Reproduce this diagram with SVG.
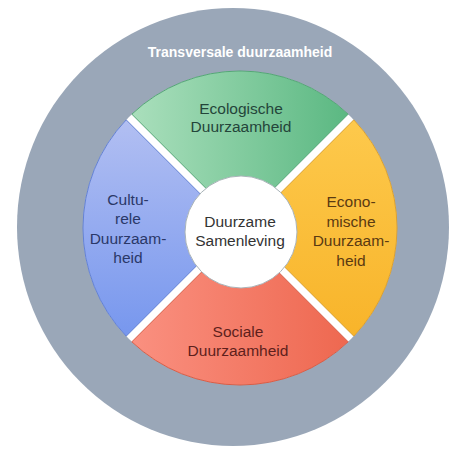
<svg xmlns="http://www.w3.org/2000/svg" width="449" height="450" viewBox="0 0 449 450">
<defs>
<linearGradient id="gGreen" x1="0" y1="0" x2="1" y2="0"><stop offset="0" stop-color="#aadfbc"/><stop offset="1" stop-color="#5bb882"/></linearGradient>
<linearGradient id="gBlue" x1="0" y1="0" x2="0" y2="1"><stop offset="0" stop-color="#b2bff2"/><stop offset="1" stop-color="#7797ee"/></linearGradient>
<linearGradient id="gOrange" x1="0" y1="0" x2="0" y2="1"><stop offset="0" stop-color="#fdc94c"/><stop offset="1" stop-color="#f8b42a"/></linearGradient>
<linearGradient id="gRed" x1="0" y1="0" x2="1" y2="0"><stop offset="0" stop-color="#fa9080"/><stop offset="1" stop-color="#ee6850"/></linearGradient>
</defs>
<style>
.lbl{font-family:"Liberation Sans",Arial,sans-serif;font-size:15.5px;text-anchor:middle}
.title{font-family:"Liberation Sans",Arial,sans-serif;font-size:14px;font-weight:bold;fill:#ffffff;text-anchor:middle}
.seg{stroke-width:1}
</style>
<rect x="0" y="0" width="449" height="450" fill="#ffffff"/>
<g id="outer">
<ellipse cx="233" cy="227" rx="216" ry="219" fill="#9aa7b8"/>
<text class="title" x="240" y="57">Transversale duurzaamheid</text>
</g>
<circle cx="240" cy="228" r="157" fill="#ffffff"/>
<g id="ecologisch">
<path class="seg" d="M240,222.34 L131.85,114.19 A157,157 0 0 1 348.15,114.19 Z" fill="url(#gGreen)" stroke="#55a677"/>
<text class="lbl" fill="#24453a" x="241" y="114">Ecologische</text>
<text class="lbl" fill="#24453a" x="241" y="132">Duurzaamheid</text>
</g>
<g id="economisch">
<path class="seg" d="M245.66,228 L353.81,119.85 A157,157 0 0 1 353.81,336.15 Z" fill="url(#gOrange)" stroke="#d9a034"/>
<text class="lbl" fill="#5a3a12" x="351" y="207">Econo-</text>
<text class="lbl" fill="#5a3a12" x="351" y="226.5">mische</text>
<text class="lbl" fill="#5a3a12" x="351" y="246">Duurzaam-</text>
<text class="lbl" fill="#5a3a12" x="351" y="265.5">heid</text>
</g>
<g id="sociaal">
<path class="seg" d="M240,233.66 L348.15,341.81 A157,157 0 0 1 131.85,341.81 Z" fill="url(#gRed)" stroke="#d65e48"/>
<text class="lbl" fill="#5e1f1c" x="238" y="337">Sociale</text>
<text class="lbl" fill="#5e1f1c" x="238" y="356">Duurzaamheid</text>
</g>
<g id="cultureel">
<path class="seg" d="M234.34,228 L126.19,336.15 A157,157 0 0 1 126.19,119.85 Z" fill="url(#gBlue)" stroke="#6482d4"/>
<text class="lbl" fill="#2a3868" x="128" y="205">Cultu-</text>
<text class="lbl" fill="#2a3868" x="128" y="224">rele</text>
<text class="lbl" fill="#2a3868" x="128" y="243.5">Duurzaam-</text>
<text class="lbl" fill="#2a3868" x="128" y="263">heid</text>
</g>
<g id="centrum">
<circle cx="241" cy="232" r="56" fill="#ffffff" stroke="#a9b3b8" stroke-width="1"/>
<text class="lbl" fill="#333333" x="240" y="227">Duurzame</text>
<text class="lbl" fill="#333333" x="240" y="246">Samenleving</text>
</g>
<g id="connectors"/>
</svg>
